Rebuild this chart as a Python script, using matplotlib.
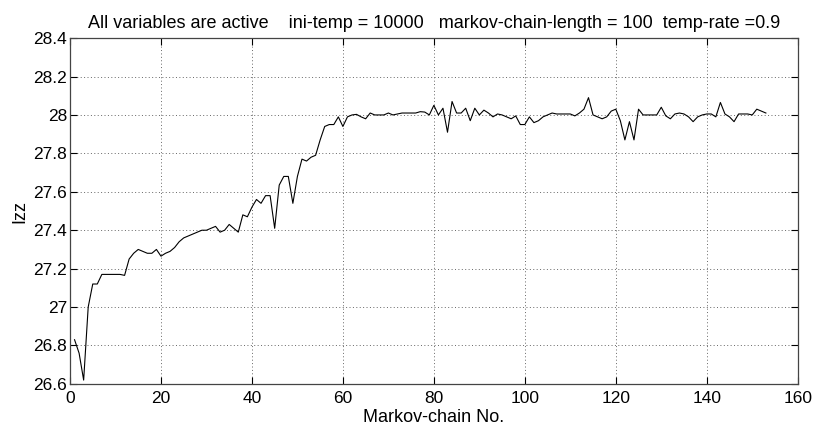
import numpy as np
import matplotlib
matplotlib.use("Agg")
import matplotlib.pyplot as plt
from matplotlib.ticker import FormatStrFormatter

plt.rcParams['font.family'] = ['Liberation Sans', 'DejaVu Sans']

# Izz value after each Markov chain
chain_no = list(range(1, 154))
izz = [
    26.83, 26.76, 26.62, 27.00, 27.12, 27.12, 27.17, 27.17, 27.17, 27.17,
    27.17, 27.165, 27.25, 27.28, 27.30, 27.29, 27.28, 27.28, 27.30, 27.265,
    27.28, 27.29, 27.31, 27.34, 27.36, 27.37, 27.38, 27.39, 27.40, 27.40,
    27.41, 27.42, 27.39, 27.40, 27.43, 27.41, 27.39, 27.48, 27.47, 27.52,
    27.56, 27.54, 27.58, 27.58, 27.41, 27.635, 27.68, 27.68, 27.54, 27.68,
    27.77, 27.76, 27.78, 27.79, 27.87, 27.94, 27.95, 27.95, 27.99, 27.94,
    27.99, 28.00, 28.003, 27.99, 27.98, 28.01, 28.00, 28.00, 28.00, 28.01,
    28.00, 28.005, 28.01, 28.01, 28.01, 28.01, 28.017, 28.015, 28.00, 28.05,
    28.00, 28.035, 27.91, 28.07, 28.01, 28.01, 28.035, 27.97, 28.035, 28.00,
    28.025, 28.01, 27.99, 28.005, 28.00, 27.99, 27.98, 27.995, 27.95, 27.95,
    27.99, 27.96, 27.97, 27.99, 28.00, 28.01, 28.005, 28.005, 28.005, 28.005,
    27.995, 28.01, 28.03, 28.09, 28.00, 27.99, 27.98, 27.99, 28.02, 28.03,
    27.97, 27.87, 27.965, 27.87, 28.03, 28.00, 28.00, 28.00, 28.00, 28.04,
    27.995, 27.98, 28.005, 28.01, 28.005, 27.99, 27.965, 27.99, 28.00, 28.005,
    28.005, 27.99, 28.065, 28.005, 27.99, 27.965, 28.005, 28.005, 28.005, 28.00,
    28.03, 28.02, 28.01,
]
x_ticks = [0, 20, 40, 60, 80, 100, 120, 140, 160]
y_ticks = [26.6, 26.8, 27.0, 27.2, 27.4, 27.6, 27.8, 28.0, 28.2, 28.4]

title = ("All variables are active    ini-temp = 10000   "
         "markov-chain-length = 100  temp-rate =0.9")

fig = plt.figure(figsize=(8.14, 4.28), dpi=100)
ax = fig.add_axes([0.086, 0.103, 0.894, 0.808])

ax.plot(chain_no, izz, color='black', lw=0.8)

ax.set_xlim(0, 160)
ax.set_ylim(26.6, 28.4)
ax.set_xticks(x_ticks)
ax.set_yticks(y_ticks)
ax.yaxis.set_major_formatter(FormatStrFormatter('%g'))
ax.tick_params(direction='in', length=5, width=0.8, top=True, right=True,
               labelsize=12.5, colors='black', pad=2)
ax.tick_params(axis='x', pad=5)
ax.grid(True, linestyle=(0, (1, 2.5)), color='#666666', lw=0.7)
for sp in ax.spines.values():
    sp.set_color('#444444')
    sp.set_linewidth(0.9)

ax.set_title(title, fontsize=13, pad=7)
ax.set_xlabel('Markov-chain No.', fontsize=13, labelpad=2)
ax.set_ylabel('Izz', fontsize=13, labelpad=4)

fig.savefig('out.png', dpi=100)
